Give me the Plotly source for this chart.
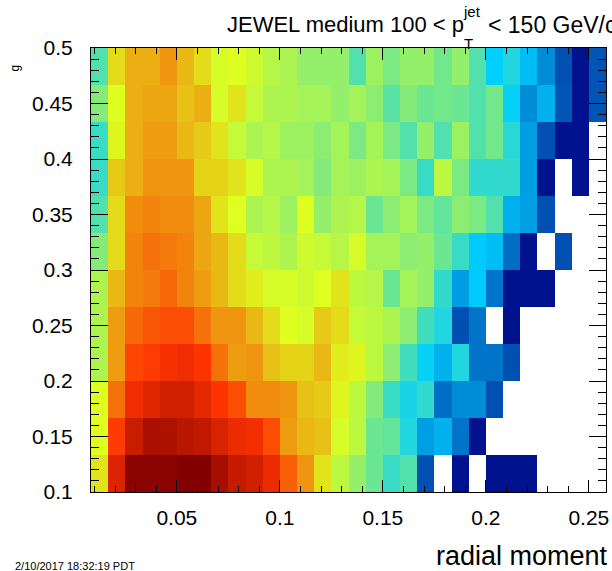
import numpy as np
import plotly.graph_objects as go

# ---- data (normalised bin contents, rows listed from top (y=0.5) to bottom (y=0.1)) ----
N = float("nan")
x_min, x_max, n_x = 1/120, 31/120, 30
y_min, y_max, n_y = 0.1, 0.5, 12

row_00 = [0.44, 0.65, 0.70, 0.70, 0.73, 0.69, 0.65, 0.60, 0.61, 0.59, 0.56, 0.55, 0.52, 0.52, 0.52,
          0.44, 0.53, 0.49, 0.52, 0.52, 0.48, 0.52, 0.44, 0.34, 0.38, 0.31, 0.23, 0.13, 0.03, 0.14]
row_01 = [0.50, 0.61, 0.70, 0.71, 0.71, 0.68, 0.70, 0.60, 0.64, 0.58, 0.55, 0.55, 0.54, 0.54, 0.52,
          0.54, 0.51, 0.45, 0.50, 0.47, 0.48, 0.47, 0.44, 0.48, 0.35, 0.23, 0.29, 0.14, 0.03, 0.14]
row_02 = [0.41, 0.62, 0.70, 0.72, 0.72, 0.69, 0.67, 0.64, 0.58, 0.55, 0.56, 0.53, 0.53, 0.51, 0.54,
          0.49, 0.54, 0.49, 0.44, 0.52, 0.44, 0.53, 0.44, 0.48, 0.39, 0.26, 0.13, 0.03, 0.03, N]
row_03 = [0.41, 0.67, 0.70, 0.73, 0.73, 0.73, 0.66, 0.66, 0.64, 0.60, 0.55, 0.55, 0.54, 0.50, 0.54,
          0.53, 0.55, 0.54, 0.49, 0.41, 0.57, 0.49, 0.40, 0.40, 0.40, 0.26, 0.03, N, 0.03, N]
row_04 = [0.44, 0.65, 0.74, 0.75, 0.74, 0.74, 0.71, 0.64, 0.61, 0.55, 0.56, 0.53, 0.61, 0.52, 0.55,
          0.56, 0.47, 0.51, 0.54, 0.49, 0.46, 0.51, 0.49, 0.44, 0.29, 0.26, 0.13, N, N, N]
row_05 = [0.50, 0.65, 0.75, 0.77, 0.76, 0.75, 0.71, 0.69, 0.65, 0.58, 0.57, 0.55, 0.59, 0.58, 0.56,
          0.60, 0.54, 0.54, 0.51, 0.52, 0.47, 0.41, 0.33, 0.31, 0.18, 0.03, N, 0.13, N, N]
row_06 = [0.55, 0.69, 0.75, 0.76, 0.78, 0.75, 0.72, 0.69, 0.65, 0.63, 0.60, 0.60, 0.59, 0.61, 0.64,
          0.57, 0.56, 0.47, 0.54, 0.52, 0.40, 0.26, 0.33, 0.19, 0.03, 0.03, 0.03, N, N, N]
row_07 = [0.55, 0.72, 0.78, 0.80, 0.81, 0.81, 0.77, 0.73, 0.73, 0.69, 0.65, 0.61, 0.60, 0.67, 0.65,
          0.58, 0.57, 0.55, 0.51, 0.42, 0.38, 0.13, 0.19, N, 0.03, N, N, N, N, N]
row_08 = [0.55, 0.72, 0.82, 0.83, 0.85, 0.86, 0.84, 0.77, 0.72, 0.73, 0.68, 0.66, 0.66, 0.69, 0.63,
          0.62, 0.57, 0.51, 0.42, 0.35, 0.29, 0.38, 0.19, 0.19, 0.13, N, N, N, N, N]
row_09 = [0.61, 0.77, 0.86, 0.88, 0.90, 0.90, 0.875, 0.84, 0.81, 0.74, 0.74, 0.73, 0.68, 0.67, 0.62,
          0.57, 0.50, 0.41, 0.37, 0.40, 0.18, 0.23, 0.23, 0.13, N, N, N, N, N, N]
row_10 = [0.61, 0.83, 0.91, 0.95, 0.945, 0.93, 0.92, 0.89, 0.865, 0.855, 0.81, 0.72, 0.69, 0.68, 0.60,
          0.57, 0.47, 0.46, 0.38, 0.26, 0.29, 0.19, 0.03, N, N, N, N, N, N, N]
row_11 = [0.64, 0.885, 0.99, 0.99, 0.99, 1.0, 1.0, 0.955, 0.915, 0.90, 0.865, 0.79, 0.73, 0.64, 0.57,
          0.52, 0.47, 0.41, 0.44, 0.13, N, 0.03, N, 0.03, 0.03, 0.03, N, N, N, N]

rows_top_to_bottom = [row_00, row_01, row_02, row_03, row_04, row_05,
                      row_06, row_07, row_08, row_09, row_10, row_11]

title_left = "JEWEL medium 100 < p"
title_right = "< 150 GeV/c"
title_sup = "jet"
title_sub = "T"
x_title = "radial moment"
y_title_fragment = "g"
date_text = "2/10/2017 18:32:19 PDT"

# ROOT-style palette (stops 0, .34, .61, .84, 1)
colorscale = [[0.00, "rgb(0,0,130)"], [0.34, "rgb(0,207,255)"], [0.61, "rgb(222,255,31)"],
              [0.84, "rgb(255,51,0)"], [1.00, "rgb(130,0,0)"]]

z = np.array(rows_top_to_bottom[::-1], dtype=float)
dx = (x_max - x_min) / n_x
dy = (y_max - y_min) / n_y

fig = go.Figure(go.Heatmap(
    z=z, x0=x_min + dx / 2, dx=dx, y0=y_min + dy / 2, dy=dy,
    colorscale=colorscale, zmin=0, zmax=1, showscale=False, hoverongaps=False,
))

FONT = "Liberation Sans, Arial, Helvetica, sans-serif"
L, R, T, B, W, H = 91, 3, 48, 79, 612, 571
PW, PH = W - L - R, H - T - B


def px(xp):
    return (xp - L) / PW


def py(yp):
    return (H - B - yp) / PH


axis_common = dict(
    ticks="inside", tickcolor="black", tickwidth=1,
    showline=True, linecolor="black", linewidth=1, mirror="ticks",
    showgrid=False, zeroline=False, tick0=0, dtick=0.05,
    ticklabeloverflow="allow",
    tickfont=dict(family=FONT, size=21, color="black"),
)
fig.update_xaxes(range=[x_min, x_max], ticklen=12, ticklabelstandoff=7,
                 minor=dict(ticks="inside", ticklen=6, dtick=0.01, tick0=0,
                            tickcolor="black", tickwidth=1),
                 **axis_common)
fig.update_yaxes(range=[y_min - 1e-7, y_max + 1e-7], ticklen=17, ticklabelstandoff=13,
                 minor=dict(ticks="inside", ticklen=8, dtick=0.01, tick0=0,
                            tickcolor="black", tickwidth=1),
                 **axis_common)

ann = [
    dict(text=title_left, x=px(226), y=py(25), xanchor="left", yanchor="middle",
         font=dict(size=22)),
    dict(text=title_right, x=px(488), y=py(25), xanchor="left", yanchor="middle",
         font=dict(size=23)),
    dict(text=title_sup, x=px(474), y=py(12), xanchor="center", yanchor="middle",
         font=dict(size=15)),
    dict(text=title_sub, x=px(471), y=py(43), xanchor="center", yanchor="middle",
         font=dict(size=15)),
    dict(text=x_title, x=px(613), y=py(556), xanchor="right", yanchor="middle",
         font=dict(size=27)),
    dict(text=date_text, x=px(13), y=py(566), xanchor="left", yanchor="middle",
         font=dict(size=11)),
    dict(text=y_title_fragment, x=px(15), y=py(68), xanchor="center", yanchor="middle",
         textangle=-90, font=dict(size=12)),
]
for a in ann:
    a.update(xref="paper", yref="paper", showarrow=False)
    a["font"].update(family=FONT, color="black")

fig.update_layout(width=W, height=H, margin=dict(l=L, r=R, t=T, b=B),
                  paper_bgcolor="white", plot_bgcolor="white",
                  font=dict(family=FONT, color="black"), annotations=ann)

fig.write_html("out.html")
